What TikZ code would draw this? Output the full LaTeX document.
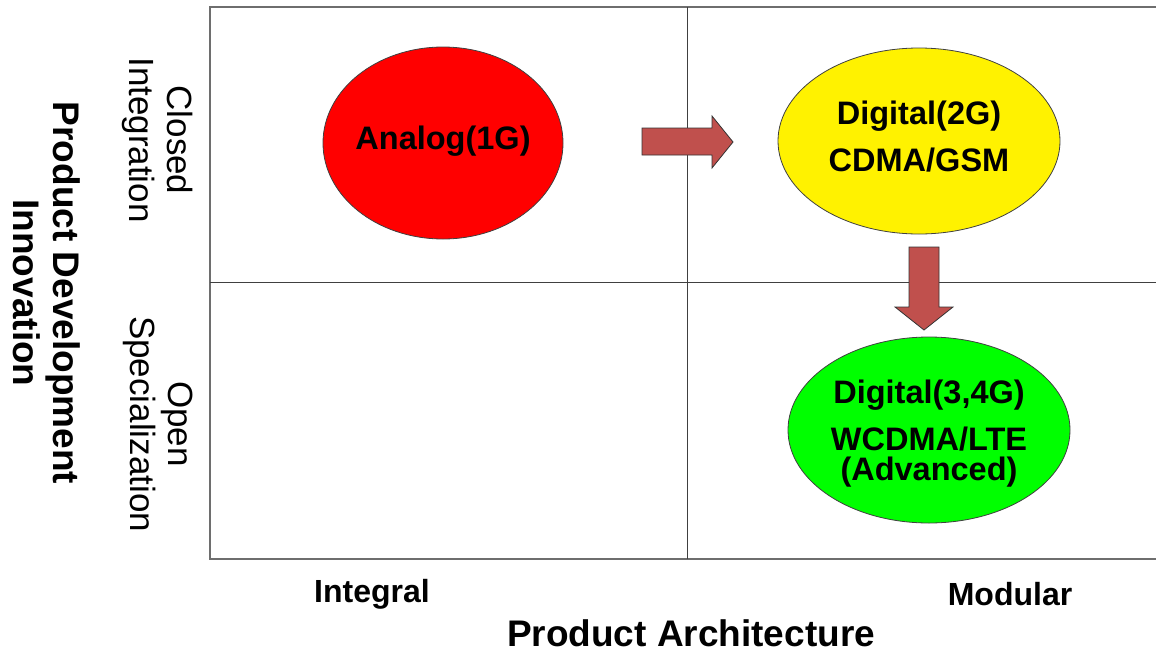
\documentclass[tikz,border=0pt]{standalone}
\usepackage{fontspec}
\setmainfont{Liberation Sans}
\usetikzlibrary{shapes.geometric}
\definecolor{arrowred}{RGB}{192,80,77}
\definecolor{gridgray}{RGB}{110,110,110}
\begin{document}
\begin{tikzpicture}[x=1pt,y=-1pt,
  bubble/.style={ellipse, draw=black!75, line width=0.8pt, inner sep=0pt},
  bubbletext/.style={align=center, inner sep=0pt, font=\fontsize{32.5}{39}\selectfont\bfseries},
  blockarrow/.style={fill=arrowred, draw=black!80, line width=0.8pt, line join=miter},
  axislab/.style={font=\fontsize{32}{38}\selectfont\bfseries},
  titlelab/.style={font=\fontsize{37}{40}\selectfont\bfseries, align=center},
  sidelab/.style={font=\fontsize{35}{38}\selectfont, align=center, rotate=-90},
]
\useasboundingbox (0,0) rectangle (1156,653);
% grid
\draw[gridgray, line width=2pt] (1170,7) -- (210,7) -- (210,559) -- (1170,559);
\draw[black!75, line width=1pt] (687,7) -- (687,559);
\draw[black!75, line width=1pt] (210,282) -- (1170,282);
% ellipses
\node[bubble, fill=red, minimum width=240, minimum height=192] (analog) at (443,143) {};
\node[bubbletext] (analogtext) at ([yshift=2pt]analog.center) {Analog(1G)};
\node[bubble, fill=yellow, minimum width=282, minimum height=186] (digital2) at (919,141) {};
\node[bubbletext] (digital2text) at ([yshift=4pt]digital2.center) {Digital(2G)\\[8pt]CDMA/GSM};
\node[bubble, fill=green, minimum width=282, minimum height=186] (digital3) at (929,430) {};
\node[bubbletext] (digital3text) at ([yshift=-4pt]digital3.center)
  {Digital(3,4G)\\[8pt]WCDMA/LTE\\[-9pt](Advanced)};
% block arrows
\draw[blockarrow] (642,128) -- (712,128) -- (712,116) -- (733,142) -- (712,168) -- (712,155) -- (642,155) -- cycle;
\draw[blockarrow] (909,247) -- (939,247) -- (939,307) -- (953,307) -- (924,330) -- (895,307) -- (909,307) -- cycle;
% labels
\node[axislab] (integral) at (372,594) {Integral};
\node[axislab] (modular) at (1010,594) {Modular};
\node[titlelab] (xtitle) at (691,633) {Product Architecture};
\node[titlelab, rotate=-90] (ytitle) at (47,293) {Product Development\\Innovation};
\node[sidelab] (closed) at (158,140) {Closed\\Integration};
\node[sidelab] (open) at (158,424) {Open\\Specialization};
\end{tikzpicture}
\end{document}
